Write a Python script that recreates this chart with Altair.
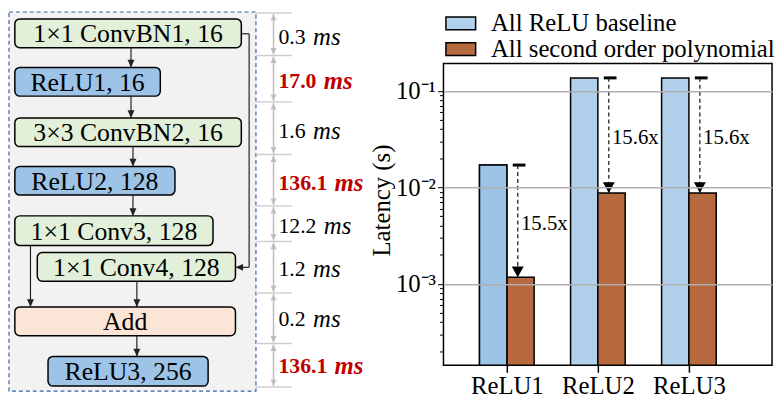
import math
import altair as alt
import pandas as pd

FONT = "Liberation Serif"

# ---------------- chart values ----------------
block_labels = ["1×1 ConvBN1, 16", "ReLU1, 16", "3×3 ConvBN2, 16", "ReLU2, 128",
                "1×1 Conv3, 128", "1×1 Conv4, 128", "Add", "ReLU3, 256"]
block_kinds = ["conv", "relu", "conv", "relu", "conv", "conv", "add", "relu"]

stage_ms = ["0.3", "17.0", "1.6", "136.1", "12.2", "1.2", "0.2", "136.1"]
stage_relu = [False, True, False, True, False, False, False, True]

layers = ["ReLU1", "ReLU2", "ReLU3"]
series = ["All ReLU baseline", "All second order polynomial"]
relu_latency_s = [0.0170, 0.1361, 0.1361]
poly_latency_s = [0.00117, 0.00872, 0.00872]
speedups = ["15.5x", "15.6x", "15.6x"]

# ---------------- diagram layout (reference pixel units) ----------------
container = [3, 256, 7, 390]
block_x0 = [9, 9, 9, 9, 9, 32, 9, 43]
block_x1 = [241, 158, 241, 173, 212, 235, 235, 207]
block_y0 = [14, 63, 114, 163, 213, 250, 305, 355]
block_y1 = [43, 92, 143, 192, 243, 279, 334, 385]
flow_arrows = [(128, 43, 128, 63), (128, 92, 128, 114), (130, 143, 130, 163),
               (130, 192, 130, 213), (25, 243, 25, 305), (134, 279, 134, 305),
               (134, 334, 134, 355)]
skip_path = [(241, 29), (249, 29), (249, 265), (235, 265)]
stage_edges = [8, 51, 98, 151, 203, 239, 291, 342, 386]
stage_text_y = [32, 77, 127, 180, 223, 267, 317, 365]
dim_x, edge_x0, edge_x1, text_x = 274, 256, 293, 279

# ---------------- left panel: block diagram ----------------
XS = alt.Scale(domain=[3, 368], nice=False, zero=False)
YS = alt.Scale(domain=[59, 364], nice=False, zero=False, reverse=True)


def LX(f):
    return alt.X(f"{f}:Q", scale=XS, axis=None)


def LY(f):
    return alt.Y(f"{f}:Q", scale=YS, axis=None)


DOWN = "M-0.5,-1.1L0.5,-1.1L0,0Z"
UP = "M-0.5,1.1L0.5,1.1L0,0Z"
LEFT = "M1.1,-0.5L1.1,0.5L0,0Z"

cont_df = pd.DataFrame({"x0": [container[0]], "x1": [container[1]],
                        "y0": [container[2]], "y1": [container[3]]})
cont = alt.Chart(cont_df).mark_rect(fill="#f2f2f2", stroke="#3a62a8", strokeDash=[4, 3],
                                    strokeWidth=1.2).encode(
    x=LX("x0"), x2="x1", y=LY("y0"), y2="y1")

box_df = pd.DataFrame({"label": block_labels, "kind": block_kinds,
                       "x0": block_x0, "x1": block_x1, "y0": block_y0, "y1": block_y1})
box_df["cx"] = (box_df.x0 + box_df.x1) / 2
box_df["cy"] = (box_df.y0 + box_df.y1) / 2

boxes = alt.Chart(box_df).mark_rect(cornerRadius=5, stroke="black", strokeWidth=1.5).encode(
    x=LX("x0"), x2="x1", y=LY("y0"), y2="y1",
    fill=alt.Fill("kind:N", scale=alt.Scale(domain=["conv", "relu", "add"],
                                            range=["#e2f0d9", "#9dc3e6", "#fbe5d6"]),
                  legend=None))
box_text = alt.Chart(box_df).mark_text(font=FONT, fontSize=26, color="black",
                                       baseline="middle", dy=1).encode(
    x=LX("cx"), y=LY("cy"), text="label:N")

arrow_df = pd.DataFrame(flow_arrows, columns=["x0", "y0", "x1", "y1"])
skip_df = pd.DataFrame([(a[0], a[1], b[0], b[1]) for a, b in zip(skip_path[:-1], skip_path[1:])],
                       columns=["x0", "y0", "x1", "y1"])
lines = alt.Chart(pd.concat([arrow_df, skip_df], ignore_index=True)).mark_rule(
    color="#222222", strokeWidth=1.2).encode(x=LX("x0"), x2="x1", y=LY("y0"), y2="y1")
heads = alt.Chart(arrow_df).mark_point(shape=DOWN, size=196, filled=True, color="#222222",
                                       opacity=1).encode(x=LX("x1"), y=LY("y1"))
head_skip = alt.Chart(skip_df.tail(1)).mark_point(shape=LEFT, size=196, filled=True,
                                                  color="#222222", opacity=1).encode(
    x=LX("x1"), y=LY("y1"))

edge_df = pd.DataFrame({"y": stage_edges, "x0": edge_x0, "x1": edge_x1})
edges = alt.Chart(edge_df).mark_rule(color="#d0d0d0", strokeWidth=1.5).encode(
    x=LX("x0"), x2="x1", y=LY("y"))
dim_df = pd.DataFrame({"top": [e + 1 for e in stage_edges[:-1]],
                       "bot": [e - 1 for e in stage_edges[1:]], "x": dim_x})
dims = alt.Chart(dim_df).mark_rule(color="#bdbdbd", strokeWidth=1.5).encode(
    x=LX("x"), y=LY("top"), y2="bot")
dim_up = alt.Chart(dim_df).mark_point(shape=UP, size=144, filled=True, color="#bdbdbd",
                                      opacity=1).encode(x=LX("x"), y=LY("top"))
dim_dn = alt.Chart(dim_df).mark_point(shape=DOWN, size=144, filled=True, color="#bdbdbd",
                                      opacity=1).encode(x=LX("x"), y=LY("bot"))

FS_NUM = 22
FS_UNIT = 25


def num_width(s):
    return sum(0.5 if c.isdigit() else 0.25 for c in s) * FS_NUM


ms_df = pd.DataFrame({"num": stage_ms, "relu": stage_relu, "y": stage_text_y})
ms_df["x"] = text_x
ms_df["xms"] = [text_x + num_width(s) + 8 for s in stage_ms]
ms_df["unit"] = "ms"

ms_layers = []
for is_relu, color, weight in [(False, "black", "normal"), (True, "#c00000", "bold")]:
    base = alt.Chart(ms_df).transform_filter(
        "datum.relu" if is_relu else "!datum.relu")
    ms_layers.append(base.mark_text(font=FONT, fontSize=FS_NUM, color=color, fontWeight=weight,
                                    align="left", baseline="middle").encode(
        x=LX("x"), y=LY("y"), text="num:N"))
    ms_layers.append(base.mark_text(font=FONT, fontSize=FS_UNIT, color=color, fontWeight=weight,
                                    fontStyle="italic", align="left", baseline="middle").encode(
        x=LX("xms"), y=LY("y"), text="unit:N"))

left = alt.layer(cont, boxes, lines, heads, head_skip, box_text, edges, dims, dim_up, dim_dn,
                 *ms_layers).properties(width=360, height=305,
                                        view=alt.ViewBackground(stroke=None))

# ---------------- right panel: latency bars ----------------
Y_MIN, Y_MAX = 1.43e-4, 0.192
X_MIN, X_MAX = -0.696, 2.913
BAR_W = 0.3

major = [0.001, 0.01, 0.1]
minor = [m * 10.0 ** e for e in (-4, -3, -2) for m in range(2, 10)]
minor = [round(v, 6) for v in minor if Y_MIN <= v <= Y_MAX]
is_major = "datum.value == 0.001 || datum.value == 0.01 || datum.value == 0.1"
label_expr = ("datum.value == 0.001 ? '10⁻³' : datum.value == 0.01 ? '10⁻²' : "
              "datum.value == 0.1 ? '10⁻¹' : ''")

RX = alt.Scale(domain=[X_MIN, X_MAX], nice=False, zero=False)
RY = alt.Scale(type="log", domain=[Y_MIN, Y_MAX], nice=False)

xaxis = alt.Axis(values=list(range(len(layers))),
                 labelExpr="[" + ",".join(f"'{l}'" for l in layers) + "][datum.value]",
                 title=None, grid=False, domain=False, tickColor="black", tickSize=7,
                 tickWidth=1.5, labelFont=FONT, labelFontSize=25, labelColor="black",
                 labelPadding=1, labelFlush=False)
yaxis = alt.Axis(values=sorted(major + minor), labelExpr=label_expr, labelOverlap=False,
                 title="Latency (s)", titleFont=FONT, titleFontSize=25,
                 titleFontWeight="normal", titleColor="black", titleX=-55, titleY=138,
                 titleBaseline="alphabetic",
                 labelFont=FONT, labelFontSize=25, labelColor="black", labelPadding=2,
                 tickColor="black", tickWidth=1,
                 tickSize={"condition": {"test": is_major, "value": 6}, "value": 4},
                 grid=True, gridColor="#b0b0b0", gridWidth=1.5,
                 gridOpacity={"condition": {"test": is_major, "value": 1}, "value": 0},
                 domain=False, zindex=1)


def RXe(f):
    return alt.X(f"{f}:Q", scale=RX, axis=xaxis)


def RYe(f):
    return alt.Y(f"{f}:Q", scale=RY, axis=yaxis)


rows = []
for i, (lay, r, p) in enumerate(zip(layers, relu_latency_s, poly_latency_s)):
    rows.append(dict(idx=i, layer=lay, series=series[0], lat=r, x0=i - BAR_W, x1=i))
    rows.append(dict(idx=i, layer=lay, series=series[1], lat=p, x0=i, x1=i + BAR_W))
bar_df = pd.DataFrame(rows)

bars = alt.Chart(bar_df).mark_rect(stroke="black", strokeWidth=1.5).encode(
    x=RXe("x0"), x2="x1", y=RYe("lat"), y2=alt.datum(Y_MIN),
    fill=alt.Fill("series:N", scale=alt.Scale(domain=series, range=["#b0d0eb", "#b7693f"]),
                  legend=alt.Legend(orient="none", legendX=5, legendY=-53, direction="vertical",
                                    title=None, symbolType="M-1.5,-0.65H1.5V0.65H-1.5Z",
                                    symbolSize=400, symbolStrokeColor="black",
                                    symbolStrokeWidth=1.5, labelFont=FONT, labelFontSize=25,
                                    labelColor="black", labelOffset=18, labelLimit=500,
                                    rowPadding=0, padding=0)))
bar1 = alt.Chart(bar_df).transform_filter(
    f"datum.idx == 0 && datum.series == '{series[0]}'").mark_rect(
    fill="#9dc3e6", stroke="black", strokeWidth=1.5).encode(
    x=RXe("x0"), x2="x1", y=RYe("lat"), y2=alt.datum(Y_MIN))

ann_df = pd.DataFrame({"idx": list(range(len(layers))), "top": relu_latency_s,
                       "bot": poly_latency_s, "label": speedups})
ann_df["xl"] = ann_df.idx + 0.12
ann_df["c0"] = ann_df.idx + 0.065
ann_df["c1"] = ann_df.idx + 0.205
ann_df["xt"] = ann_df.idx + 0.155
ann_df["mid"] = [math.sqrt(a * b) for a, b in zip(relu_latency_s, poly_latency_s)]

caps = alt.Chart(ann_df).mark_rule(color="black", strokeWidth=3).encode(
    x=RXe("c0"), x2="c1", y=RYe("top"))
dashes = alt.Chart(ann_df).mark_rule(color="#222222", strokeWidth=1.3, strokeDash=[4, 3]).encode(
    x=RXe("xl"), y=RYe("top"), y2="bot")
ann_heads = alt.Chart(ann_df).mark_point(shape="M-0.5,-0.9L0.5,-0.9L0,0Z", size=576, filled=True,
                                         color="black", opacity=1).encode(
    x=RXe("xl"), y=RYe("bot"))
ann_text = alt.Chart(ann_df).mark_text(font=FONT, fontSize=21, color="black", align="left",
                                       baseline="middle", dy=3).encode(
    x=RXe("xt"), y=RYe("mid"), text="label:N")

right = alt.layer(bars, bar1, caps, dashes, ann_heads, ann_text).properties(
    width=332, height=305, view=alt.ViewBackground(stroke="black", strokeWidth=1.5))

chart = alt.hconcat(left, right, spacing=79, bounds="flush", padding=0).resolve_scale(
    fill="independent")

chart.save("out.html", embed_options={"renderer": "svg", "actions": False})
